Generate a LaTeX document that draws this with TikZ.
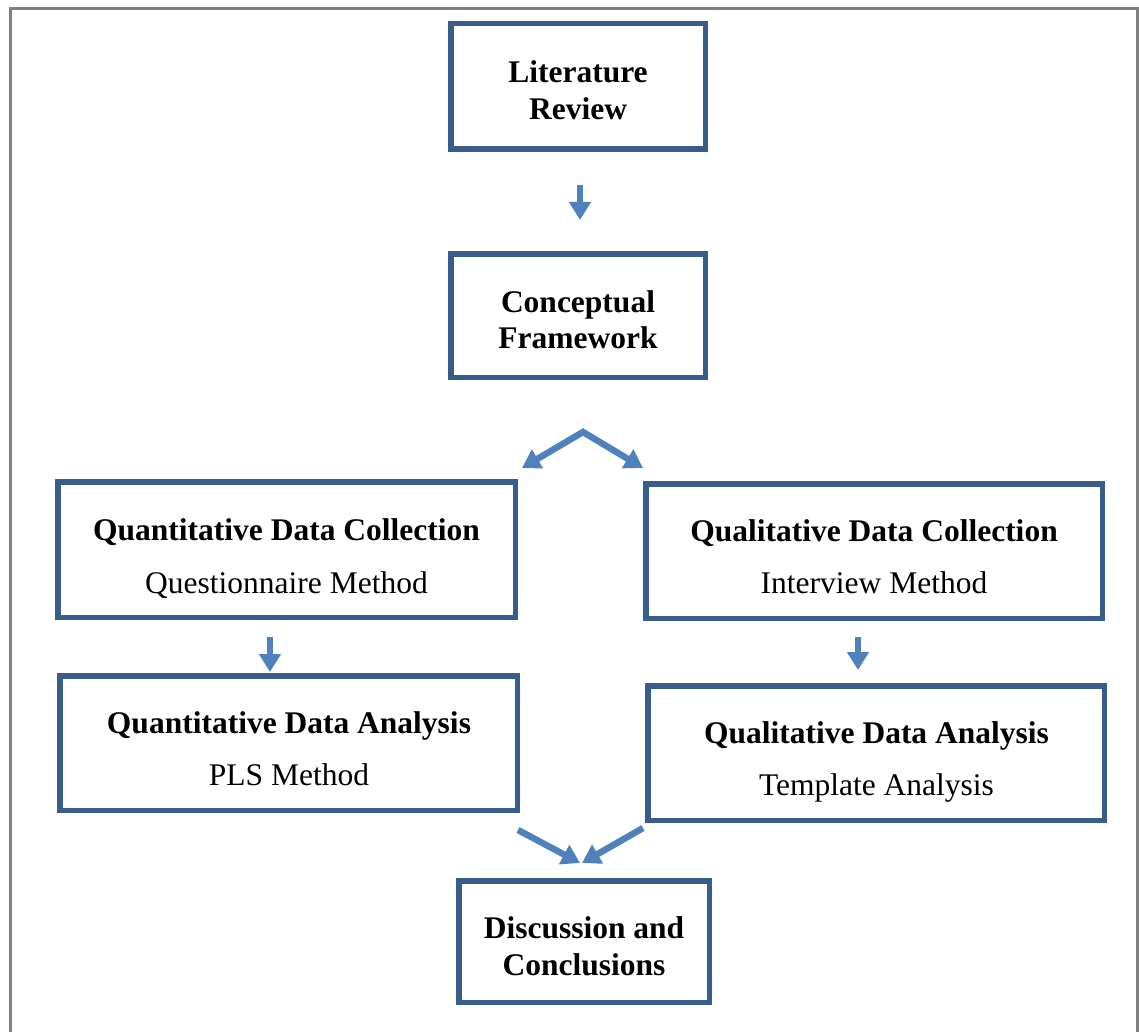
\documentclass[tikz,border=0pt]{standalone}
\usepackage{fontspec}
\setmainfont{Liberation Serif}
\usetikzlibrary{arrows.meta,calc}
\definecolor{boxblue}{RGB}{56,93,138}
\definecolor{arrowblue}{RGB}{79,129,189}
\definecolor{framegray}{RGB}{128,128,128}
\begin{document}
\begin{tikzpicture}[x=1pt,y=-1pt,
  boxnode/.style={draw=boxblue, line width=5.5pt, rectangle, inner sep=0pt, fill=white},
  ttl/.style={font=\fontsize{31.5}{36}\selectfont\bfseries, anchor=base, inner sep=0pt},
  sub/.style={font=\fontsize{31.5}{36}\selectfont, anchor=base, inner sep=0pt},
  arr/.style={draw=arrowblue, line width=6.5pt, -{Triangle[length=18pt,width=21pt]}},
  arrboth/.style={draw=arrowblue, line width=6.5pt, line join=miter, {Triangle[length=18pt,width=21pt]}-{Triangle[length=18pt,width=21pt]}}
]
\useasboundingbox (0,0) rectangle (1139,1032);
\fill[white] (0,0) rectangle (1139,1032);
\draw[framegray, line width=3pt] (10,1032) -- (10,8.5) -- (1137.5,8.5) -- (1137.5,1032);

% boxes
\node[boxnode, minimum width=254.5pt, minimum height=125.5pt] (lit) at (578,86.5) {};
\node[boxnode, minimum width=254.5pt, minimum height=123.5pt] (concept) at (578,315.5) {};
\node[boxnode, minimum width=457.5pt, minimum height=135.5pt] (quantC) at (286.5,549.5) {};
\node[boxnode, minimum width=457.5pt, minimum height=134.5pt] (quantA) at (288.5,743) {};
\node[boxnode, minimum width=456.5pt, minimum height=134.5pt] (qualC) at (874,551) {};
\node[boxnode, minimum width=456.5pt, minimum height=134.5pt] (qualA) at (876,753) {};
\node[boxnode, minimum width=250.5pt, minimum height=121.5pt] (disc) at (584,941.5) {};

% texts
\node[ttl] (litT1) at (578,83) {Literature};
\node[ttl] (litT2) at (578,120) {Review};
\node[ttl] (conT1) at (578,312) {Conceptual};
\node[ttl] (conT2) at (578,348) {Framework};
\node[ttl] (qnCT) at (286.5,540) {Quantitative Data Collection};
\node[sub] (qnCS) at (286.5,593) {Questionnaire Method};
\node[ttl] (qnAT) at (289,733) {Quantitative Data Analysis};
\node[sub] (qnAS) at (289,785) {PLS Method};
\node[ttl] (qlCT) at (874,541) {Qualitative Data Collection};
\node[sub] (qlCS) at (874,593) {Interview Method};
\node[ttl] (qlAT) at (876.5,743) {Qualitative Data Analysis};
\node[sub] (qlAS) at (876.5,795) {Template Analysis};
\node[ttl] (dT1) at (584,938) {Discussion and};
\node[ttl] (dT2) at (584,975) {Conclusions};

% connectors
\draw[arr, shorten <=33pt, shorten >=31pt] ([xshift=2pt]lit.south) -- ([xshift=2pt]concept.north);
\coordinate (forkL) at (522,468);
\coordinate (fork) at (583,432);
\coordinate (forkR) at (643,468);
\draw[arrboth] (forkL) -- (fork) -- (forkR);
\draw[arr, shorten <=17pt, shorten >=1pt] ([xshift=-16.5pt]quantC.south) -- ([xshift=-18.5pt]quantA.north);
\draw[arr, shorten <=16pt, shorten >=13pt] ([xshift=-16pt]qualC.south) -- ([xshift=-18pt]qualA.north);
\draw[arr] ($(quantA.south east)+(-2,17)$) -- ($(disc.north)+(-4,-15)$);
\draw[arr] ($(qualA.south west)+(-2,5)$) -- ($(disc.north)+(-2,-15)$);
\end{tikzpicture}
\end{document}
